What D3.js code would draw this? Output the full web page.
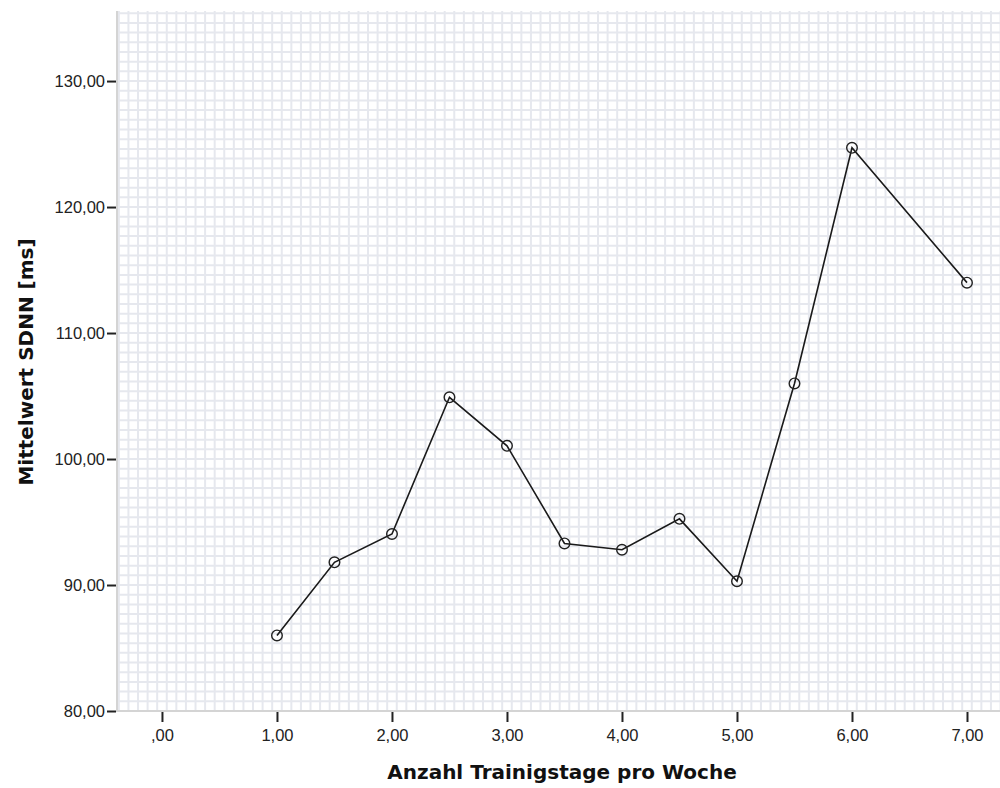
<!DOCTYPE html>
<html>
<head>
<meta charset="utf-8">
<script src="https://cdn.jsdelivr.net/npm/d3@7"></script>
<style>
  html, body { margin: 0; padding: 0; background: #fff; }
  svg { display: block; }
</style>
</head>
<body>
<svg id="chart" width="1000" height="788"></svg>
<script>
const xValues = [1, 1.5, 2, 2.5, 3, 3.5, 4, 4.5, 5, 5.5, 6, 7];
const yValues = [86.0, 91.8, 94.05, 104.9, 101.05, 93.3, 92.8, 95.25, 90.3, 106.0, 124.7, 114.0];
const xTicks = [0, 1, 2, 3, 4, 5, 6, 7];
const yTicks = [80, 90, 100, 110, 120, 130];
const xTitle = "Anzahl Trainigstage pro Woche";
const yTitle = "Mittelwert SDNN [ms]";

const fmt = v => {
  const s = v.toFixed(2).replace(".", ",");
  return s.startsWith("0,") ? s.slice(1) : s;
};

const svg = d3.select("#chart");
const L = 117, T = 11, R = 1000, B = 711;

const x = d3.scaleLinear().domain([-0.391, 7.287]).range([L, R]);
const y = d3.scaleLinear().domain([80, 135.56]).range([B, T]);

// grid
const g = svg.append("g");
const xGrid = d3.range(-0.375, 7.3, 1 / 12);
const yGrid = d3.range(80 + 10 / 13, 135.6, 10 / 13);
g.selectAll(".vg").data(xGrid).join("line")
  .attr("x1", d => x(d)).attr("x2", d => x(d))
  .attr("y1", T).attr("y2", B)
  .attr("stroke", "#e6e8ee").attr("stroke-width", 2);
g.selectAll(".hg").data(yGrid).join("line")
  .attr("x1", L).attr("x2", R)
  .attr("y1", d => y(d)).attr("y2", d => y(d))
  .attr("stroke", "#e6e8ee").attr("stroke-width", 2);

// frame lines
svg.append("line").attr("x1", L).attr("x2", L).attr("y1", T).attr("y2", B + 1)
  .attr("stroke", "#d4d4d4").attr("stroke-width", 2);
svg.append("line").attr("x1", L).attr("x2", R).attr("y1", B).attr("y2", B)
  .attr("stroke", "#d4d4d4").attr("stroke-width", 2);

// axes
const tickFont = "Liberation Sans, Arial, sans-serif";
const yAxis = d3.axisLeft(y).tickValues(yTicks).tickFormat(fmt).tickSize(9).tickPadding(2);
const yg = svg.append("g").attr("transform", `translate(${L - 1},0)`).call(yAxis);
yg.select(".domain").remove();
yg.selectAll(".tick line").attr("stroke", "#222").attr("stroke-width", 2);
yg.selectAll(".tick text").attr("font-family", tickFont)
  .attr("font-size", 16.5).attr("fill", "#222").attr("dy", "0.35em");

const xAxis = d3.axisBottom(x).tickValues(xTicks).tickFormat(fmt).tickSize(10).tickPadding(7);
const xg = svg.append("g").attr("transform", `translate(0,${B + 1})`).call(xAxis);
xg.select(".domain").remove();
xg.selectAll(".tick line").attr("stroke", "#222").attr("stroke-width", 2);
xg.selectAll(".tick text").attr("font-family", tickFont)
  .attr("font-size", 16.5).attr("fill", "#222");

// titles
const titleFont = "DejaVu Sans, Verdana, sans-serif";
svg.append("text").attr("x", 562).attr("y", 779).attr("text-anchor", "middle")
  .attr("font-family", titleFont).attr("font-weight", "bold")
  .attr("font-size", 20).attr("fill", "#111").text(xTitle);
svg.append("text").attr("transform", "translate(33,362) rotate(-90)").attr("text-anchor", "middle")
  .attr("font-family", titleFont).attr("font-weight", "bold")
  .attr("font-size", 20).attr("fill", "#111").text(yTitle);

// line
const data = xValues.map((v, i) => [v, yValues[i]]);
svg.append("path").datum(data)
  .attr("d", d3.line().x(d => x(d[0])).y(d => y(d[1])))
  .attr("fill", "none").attr("stroke", "#1a1a1a").attr("stroke-width", 1.6);

svg.selectAll(".pt").data(data).join("circle")
  .attr("cx", d => x(d[0])).attr("cy", d => y(d[1])).attr("r", 5.3)
  .attr("fill", "none").attr("stroke", "#222").attr("stroke-width", 1.4);
</script>
</body>
</html>
